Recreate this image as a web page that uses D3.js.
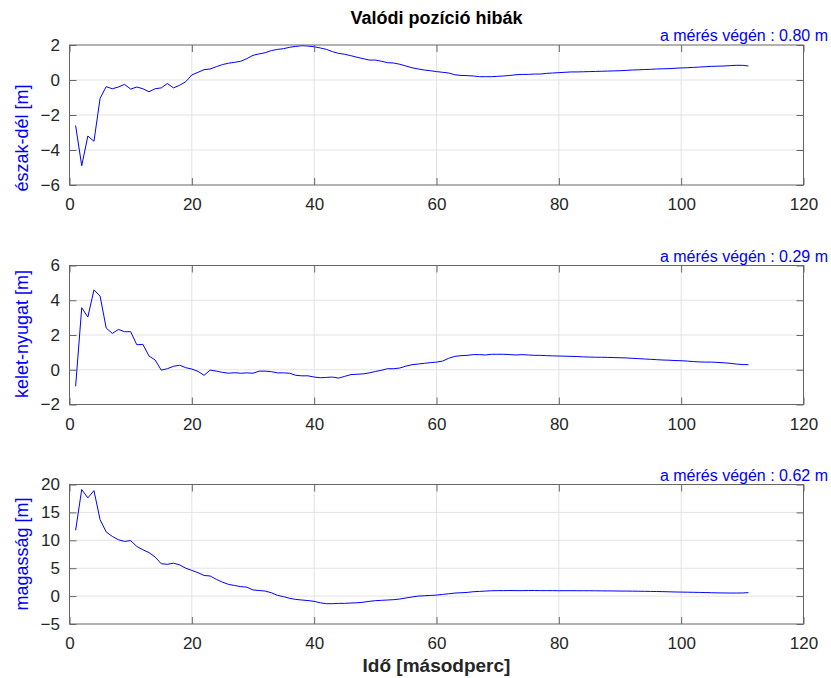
<!DOCTYPE html>
<html>
<head>
<meta charset="utf-8">
<script src="https://cdn.jsdelivr.net/npm/d3@7"></script>
<style>
  body { margin: 0; background: #fff; }
  svg { font-family: "Liberation Sans", Arial, sans-serif; }
  .grid line { stroke: #e3e3e3; stroke-width: 1; }
  .frame { fill: none; stroke: #666; stroke-width: 1; }
  .tick-label { fill: #262626; font-size: 17px; }
  .series { fill: none; stroke: #0000ff; stroke-width: 1; stroke-linejoin: round; }
  .ylab { fill: #0000ff; font-size: 18px; }
  .note { fill: #0000ff; font-size: 16px; }
</style>
</head>
<body>
<svg id="chart" width="831" height="678"></svg>
<script>
// sample times (seconds)
const seconds = d3.range(1, 112);

// north-south error [m]
const northSouth = [
  -2.6, -4.9, -3.2, -3.5, -1.05, -0.38, -0.5, -0.4, -0.25, -0.52,
  -0.4, -0.5, -0.67, -0.5, -0.45, -0.2, -0.45, -0.3, -0.1, 0.29,
  0.44, 0.59, 0.63, 0.76, 0.88, 0.96, 1.01, 1.07, 1.22, 1.41,
  1.49, 1.56, 1.68, 1.75, 1.79, 1.87, 1.92, 1.96, 1.94, 1.9,
  1.83, 1.75, 1.62, 1.52, 1.47, 1.39, 1.3, 1.22, 1.14, 1.14,
  1.07, 0.99, 0.97, 0.9, 0.8, 0.7, 0.63, 0.57, 0.53, 0.48,
  0.44, 0.4, 0.3, 0.26, 0.25, 0.23, 0.19, 0.19, 0.19, 0.21,
  0.23, 0.26, 0.3, 0.32, 0.32, 0.34, 0.34, 0.38, 0.4, 0.42,
  0.44, 0.46, 0.46, 0.47, 0.48, 0.49, 0.5, 0.51, 0.52, 0.53,
  0.55, 0.57, 0.58, 0.6, 0.61, 0.63, 0.64, 0.65, 0.67, 0.69,
  0.7, 0.72, 0.74, 0.76, 0.78, 0.79, 0.8, 0.82, 0.84, 0.84,
  0.8
];

// east-west error [m]
const eastWest = [
  -0.95, 3.57, 3.03, 4.6, 4.24, 2.4, 2.09, 2.32, 2.19, 2.19,
  1.44, 1.46, 0.79, 0.56, -0.02, 0.06, 0.2, 0.26, 0.12, 0.04,
  -0.09, -0.32, -0.02, -0.08, -0.15, -0.2, -0.17, -0.2, -0.18, -0.2,
  -0.08, -0.08, -0.11, -0.18, -0.18, -0.2, -0.32, -0.35, -0.35, -0.42,
  -0.46, -0.44, -0.42, -0.48, -0.38, -0.28, -0.26, -0.24, -0.18, -0.1,
  -0.03, 0.06, 0.06, 0.1, 0.21, 0.29, 0.33, 0.37, 0.41, 0.44,
  0.5, 0.66, 0.77, 0.81, 0.83, 0.87, 0.87, 0.85, 0.89, 0.89,
  0.89, 0.87, 0.85, 0.87, 0.85, 0.83, 0.83, 0.81, 0.8, 0.79,
  0.78, 0.77, 0.76, 0.74, 0.73, 0.72, 0.72, 0.71, 0.7, 0.69,
  0.68, 0.66, 0.64, 0.62, 0.6, 0.58, 0.56, 0.55, 0.53, 0.52,
  0.5, 0.47, 0.45, 0.44, 0.44, 0.42, 0.4, 0.37, 0.33, 0.3,
  0.29
];

// altitude error [m]
const altitude = [
  11.8, 19.1, 17.6, 18.9, 13.7, 11.5, 10.7, 10.1, 9.8, 9.95,
  8.9, 8.3, 7.8, 7.0, 5.8, 5.7, 5.9, 5.6, 5.0, 4.6,
  4.2, 3.7, 3.6, 3.0, 2.5, 2.1, 1.9, 1.7, 1.6, 1.1,
  1.0, 0.9, 0.6, 0.14, -0.1, -0.4, -0.6, -0.7, -0.8, -0.94,
  -1.2, -1.36, -1.36, -1.3, -1.3, -1.24, -1.2, -1.1, -0.94, -0.82,
  -0.76, -0.7, -0.64, -0.52, -0.34, -0.16, 0, 0.06, 0.12, 0.18,
  0.3, 0.42, 0.54, 0.6, 0.66, 0.78, 0.84, 0.9, 0.96, 0.98,
  0.98, 1.0, 0.98, 0.98, 1.0, 1.0, 0.98, 0.98, 0.98, 0.96,
  0.97, 0.97, 0.96, 0.96, 0.96, 0.95, 0.94, 0.93, 0.92, 0.9,
  0.9, 0.89, 0.87, 0.86, 0.84, 0.82, 0.8, 0.77, 0.74, 0.72,
  0.7, 0.68, 0.66, 0.64, 0.6, 0.58, 0.56, 0.55, 0.55, 0.56,
  0.62
];

const xTicks = [0, 20, 40, 60, 80, 100, 120];

const panels = [
  {label: "észak-dél [m]", values: northSouth, domain: [-6, 2], ticks: [-6, -4, -2, 0, 2], note: "a mérés végén : 0.80 m", top: 45, bottom: 185, labelY: 138},
  {label: "kelet-nyugat [m]", values: eastWest, domain: [-2, 6], ticks: [-2, 0, 2, 4, 6], note: "a mérés végén : 0.29 m", top: 265.5, bottom: 404.5, labelY: 334},
  {label: "magasság [m]", values: altitude, domain: [-5, 20], ticks: [-5, 0, 5, 10, 15, 20], note: "a mérés végén : 0.62 m", top: 484.5, bottom: 624, labelY: 554}
];

const left = 69.5, right = 803.5;
const tickLen = 7;

let svg = d3.select("#chart");

let x = d3.scaleLinear().domain([0, 120]).range([left, right]);

// title
svg.append("text")
    .attr("x", (left + right) / 2)
    .attr("y", 24)
    .attr("text-anchor", "middle")
    .attr("font-weight", "bold")
    .attr("font-size", 18)
    .attr("fill", "#000")
    .text("Valódi pozíció hibák");

panels.forEach(p => {
  let y = d3.scaleLinear().domain(p.domain).range([p.bottom, p.top]);
  let g = svg.append("g");

  // grid
  let grid = g.append("g").attr("class", "grid");
  grid.selectAll(".gx")
      .data(xTicks.slice(1, -1))
    .enter().append("line")
      .attr("x1", d => x(d)).attr("x2", d => x(d))
      .attr("y1", p.top).attr("y2", p.bottom);
  grid.selectAll(".gy")
      .data(p.ticks.slice(1, -1))
    .enter().append("line")
      .attr("x1", left).attr("x2", right)
      .attr("y1", d => y(d)).attr("y2", d => y(d));

  // the series
  let line = d3.line()
      .x((d, i) => x(seconds[i]))
      .y(d => y(d));

  g.append("path")
      .attr("class", "series")
      .attr("d", line(p.values));

  // inward ticks, all four sides
  let axes = [
    {ax: d3.axisBottom(x).tickValues(xTicks).tickFormat(d3.format("d")), tr: `translate(0,${p.bottom})`, side: "bottom"},
    {ax: d3.axisTop(x).tickValues(xTicks).tickFormat(""), tr: `translate(0,${p.top})`, side: "top"},
    {ax: d3.axisLeft(y).tickValues(p.ticks).tickFormat(d3.format("d")), tr: `translate(${left},0)`, side: "left"},
    {ax: d3.axisRight(y).tickValues(p.ticks).tickFormat(""), tr: `translate(${right},0)`, side: "right"}
  ];

  axes.forEach(({ax, tr, side}) => {
    let a = g.append("g")
        .attr("transform", tr)
        .call(ax.tickSizeInner(-tickLen).tickSizeOuter(0));
    a.select(".domain").remove();
    a.selectAll(".tick line").attr("stroke", "#666");
    let labels = a.selectAll(".tick text")
        .attr("class", "tick-label")
        .attr("font-family", null)
        .attr("font-size", null)
        .attr("fill", null);
    if (side === "bottom") labels.attr("y", 13);
    if (side === "left") labels.attr("x", -9.5);
  });

  // frame
  g.append("rect")
      .attr("class", "frame")
      .attr("x", left).attr("y", p.top)
      .attr("width", right - left).attr("height", p.bottom - p.top);

  // y label
  g.append("text")
      .attr("class", "ylab")
      .attr("transform", `translate(28,${p.labelY}) rotate(-90)`)
      .attr("text-anchor", "middle")
      .text(p.label);

  // end-of-measurement note
  g.append("text")
      .attr("class", "note")
      .attr("x", 828)
      .attr("y", p.top - 4)
      .attr("text-anchor", "end")
      .text(p.note);
});

// x label
svg.append("text")
    .attr("x", (left + right) / 2)
    .attr("y", 672)
    .attr("text-anchor", "middle")
    .attr("font-weight", "bold")
    .attr("font-size", 19)
    .attr("fill", "#262626")
    .text("Idő [másodperc]");
</script>
</body>
</html>
